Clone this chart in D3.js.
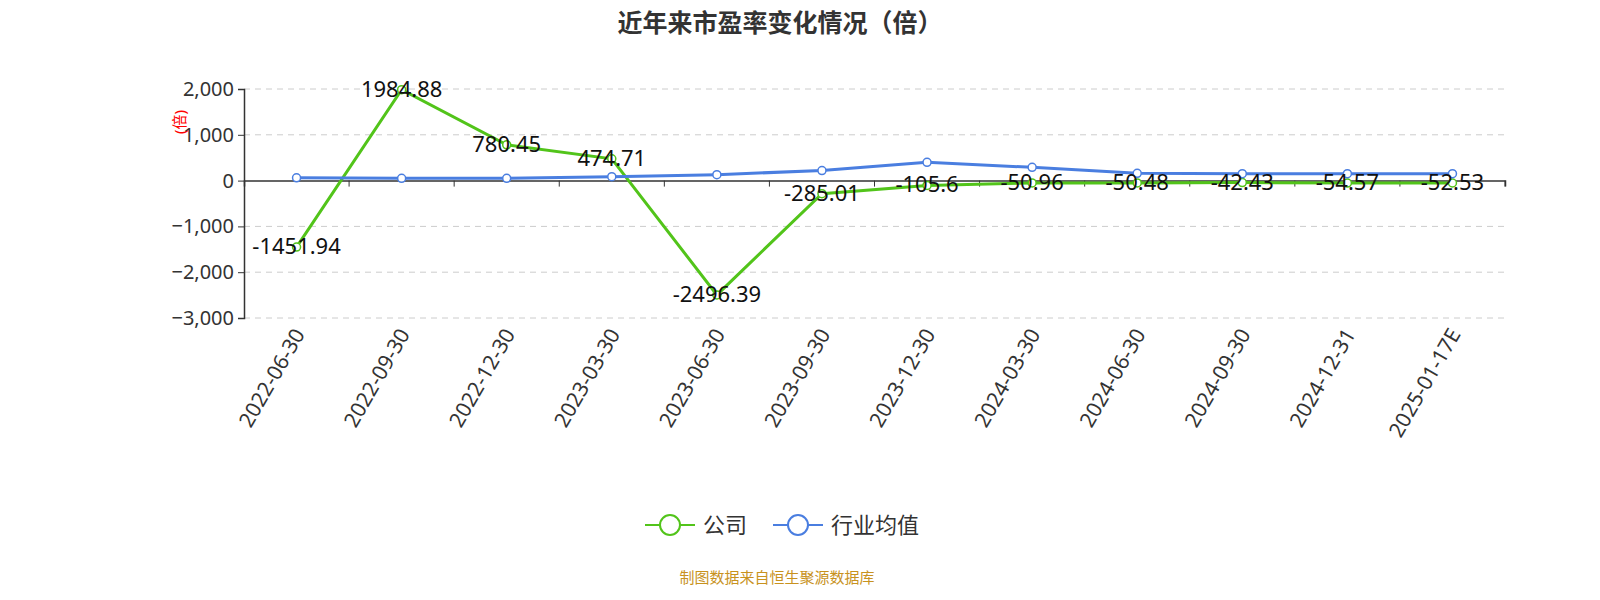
<!DOCTYPE html>
<html><head><meta charset="utf-8">
<script src="https://cdn.jsdelivr.net/npm/d3@7"></script>
<style>body{margin:0;background:#fff;font-family:"Noto Sans","Noto Sans CJK SC",sans-serif}</style>
</head><body><svg id="c" width="1600" height="600"></svg>
<script>
const categories = ['2022-06-30','2022-09-30','2022-12-30','2023-03-30','2023-06-30','2023-09-30','2023-12-30','2024-03-30','2024-06-30','2024-09-30','2024-12-31','2025-01-17E'];
const company = [-1451.94,1984.88,780.45,474.71,-2496.39,-285.01,-105.6,-50.96,-50.48,-42.43,-54.57,-52.53];
const industry = [60,50,50,85,130,220,400,290,160,150,150,150];
const yTicks = [2000,1000,0,-1000,-2000,-3000];

const svg = d3.select('#c');
const font = '"Noto Sans","Noto Sans CJK SC",sans-serif';
const x = d3.scaleBand().domain(categories).range([244,1505]);
const y = d3.scaleLinear().domain([-3000,2000]).range([318,89]);
const cx = d => x(d) + x.bandwidth()/2;

svg.append('text').attr('x',780).attr('y',32).attr('text-anchor','middle')
  .attr('font-size',25).attr('font-weight','bold').attr('fill','#333').attr('font-family',font)
  .text('近年来市盈率变化情况（倍）');

// grid
svg.append('g').selectAll('line').data(yTicks.filter(t=>t!==0)).join('line')
  .attr('x1',244).attr('x2',1505).attr('y1',d=>y(d)).attr('y2',d=>y(d))
  .attr('stroke','#ccc').attr('stroke-dasharray','6,5');

const ya = svg.append('g').attr('transform','translate(244,0)')
  .call(d3.axisLeft(y).tickValues(yTicks).tickFormat(d3.format(',')).tickSize(6).tickPadding(4));
ya.select('.domain').attr('stroke','#333').attr('stroke-width',1.5);
ya.selectAll('line').attr('stroke','#333');
ya.selectAll('text').attr('font-size',20).attr('fill','#333').attr('font-family',font);

const xa = svg.append('g').attr('transform',`translate(0,${y(0)})`)
  .call(d3.axisBottom(x).tickSize(6).tickFormat(''));
xa.select('.domain').attr('stroke','#333').attr('stroke-width',1.5);
xa.selectAll('line').attr('stroke','#333').attr('transform',`translate(${x.bandwidth()/2},0)`);

svg.append('g').selectAll('text').data(categories).join('text')
  .attr('transform',d=>`translate(${cx(d)+9},${334}) rotate(-60)`)
  .attr('text-anchor','end').attr('font-size',21).attr('fill','#333').attr('font-family',font)
  .text(d=>d);

svg.append('text').attr('transform','translate(185,122) rotate(-90)').attr('text-anchor','middle')
  .attr('font-size',15).attr('fill','red').attr('font-family',font).text('(倍)');

const line = d3.line().x((d,i)=>cx(categories[i])).y(d=>y(d));
function series(data,color){
  svg.append('path').datum(data).attr('d',line).attr('fill','none').attr('stroke',color).attr('stroke-width',3);
  svg.append('g').selectAll('circle').data(data).join('circle')
    .attr('cx',(d,i)=>cx(categories[i])).attr('cy',d=>y(d)).attr('r',4)
    .attr('fill','#fff').attr('stroke',color).attr('stroke-width',1.5);
}
series(company,'#52c41a');
series(industry,'#4a7ee0');

svg.append('g').selectAll('text').data(company).join('text')
  .attr('x',(d,i)=>cx(categories[i])).attr('y',d=>y(d)+7)
  .attr('text-anchor','middle').attr('font-size',22).attr('fill','#111').attr('font-family',font)
  .text(d=>d);

// legend
const leg = [{n:'公司',c:'#52c41a',x:645},{n:'行业均值',c:'#4a7ee0',x:773}];
leg.forEach(l=>{
  const g = svg.append('g');
  g.append('line').attr('x1',l.x).attr('x2',l.x+50).attr('y1',525).attr('y2',525).attr('stroke',l.c).attr('stroke-width',2);
  g.append('circle').attr('cx',l.x+25).attr('cy',525).attr('r',10).attr('fill','#fff').attr('stroke',l.c).attr('stroke-width',2);
  g.append('text').attr('x',l.x+58).attr('y',533).attr('font-size',22).attr('fill','#333').attr('font-family',font).text(l.n);
});

svg.append('text').attr('x',777).attr('y',583).attr('text-anchor','middle').attr('font-size',15)
  .attr('fill','#c8921e').attr('font-family',font).text('制图数据来自恒生聚源数据库');
</script></body></html>
